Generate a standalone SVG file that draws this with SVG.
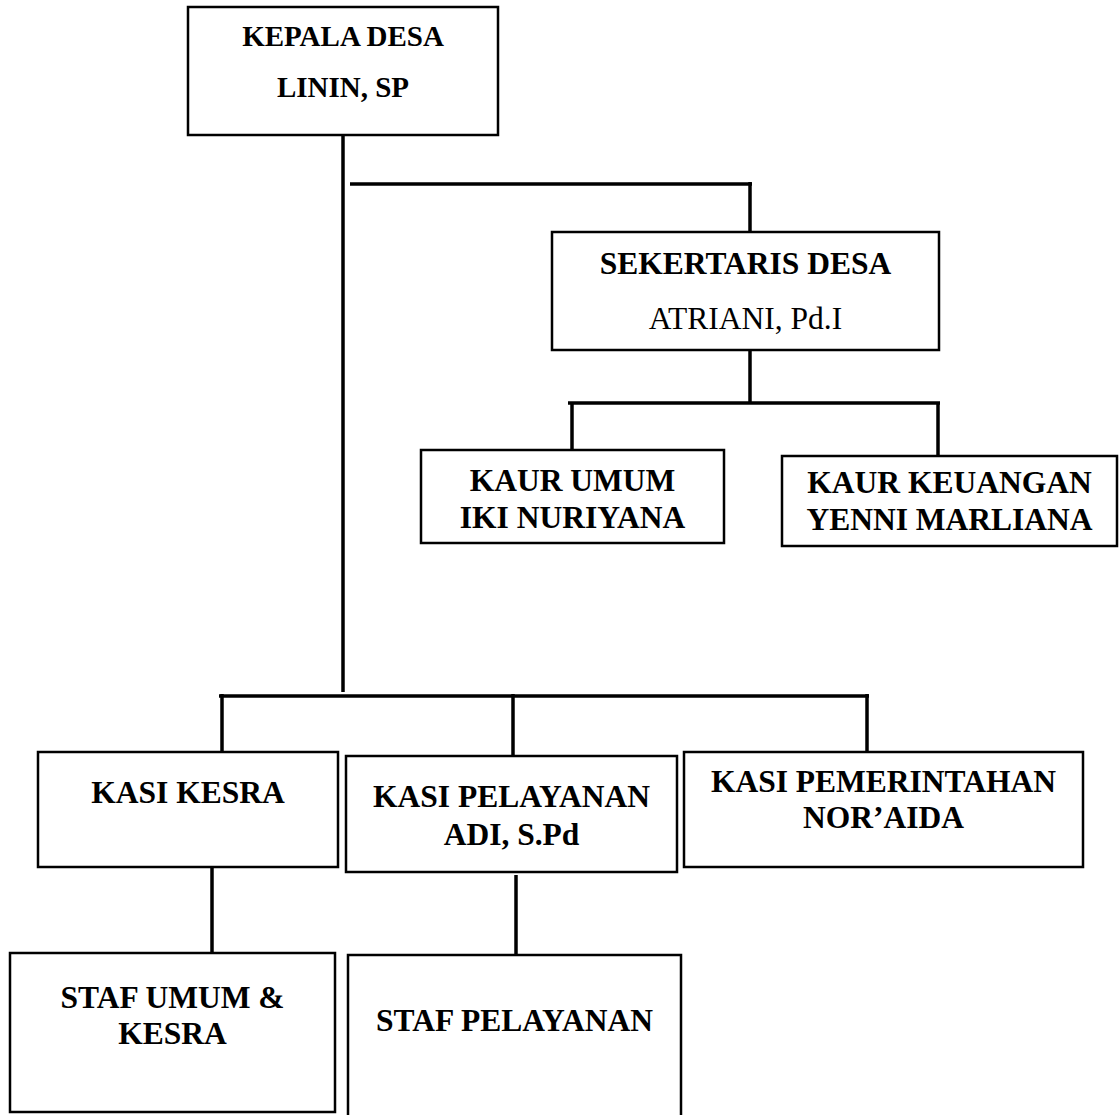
<svg xmlns="http://www.w3.org/2000/svg" width="1120" height="1115" viewBox="0 0 1120 1115">
<style>
.box{fill:#fff;stroke:#000;stroke-width:2.5}
.ln{stroke:#000;stroke-width:3.5;fill:none}
text{font-family:"Liberation Serif","Times New Roman",serif;font-size:31.5px;fill:#000;text-anchor:middle}
.b{font-weight:bold}
</style>
<rect width="1120" height="1115" fill="#fff"/>
<g id="connectors">
<line class="ln" x1="343" y1="132" x2="343" y2="692"/>
<line class="ln" x1="350" y1="184" x2="752" y2="184"/>
<line class="ln" x1="750" y1="182" x2="750" y2="232"/>
<line class="ln" x1="750" y1="350" x2="750" y2="403"/>
<line class="ln" x1="568" y1="403" x2="940" y2="403"/>
<line class="ln" x1="572" y1="403" x2="572" y2="450"/>
<line class="ln" x1="938" y1="403" x2="938" y2="456"/>
<line class="ln" x1="219" y1="696" x2="869" y2="696"/>
<line class="ln" x1="222" y1="694" x2="222" y2="752"/>
<line class="ln" x1="513" y1="694" x2="513" y2="756"/>
<line class="ln" x1="867" y1="694" x2="867" y2="752"/>
<line class="ln" x1="212" y1="867" x2="212" y2="953"/>
<line class="ln" x1="516" y1="875" x2="516" y2="955"/>
</g>
<g id="kepala-desa">
<rect class="box" x="188" y="7" width="310" height="128"/>
<text class="b" x="343" y="46" style="font-size:29px">KEPALA DESA</text>
<text class="b" x="343" y="97" style="font-size:29px">LININ, SP</text>
</g>
<g id="sekertaris-desa">
<rect class="box" x="552" y="232" width="387" height="118"/>
<text class="b" x="745.5" y="274">SEKERTARIS DESA</text>
<text x="745.5" y="329">ATRIANI, Pd.I</text>
</g>
<g id="kaur-umum">
<rect class="box" x="421" y="450" width="303" height="93"/>
<text class="b" x="572.5" y="491">KAUR UMUM</text>
<text class="b" x="572.5" y="528">IKI NURIYANA</text>
</g>
<g id="kaur-keuangan">
<rect class="box" x="782" y="456" width="335" height="90"/>
<text class="b" x="949.5" y="493">KAUR KEUANGAN</text>
<text class="b" x="949.5" y="530">YENNI MARLIANA</text>
</g>
<g id="kasi-kesra">
<rect class="box" x="38" y="752" width="300" height="115"/>
<text class="b" x="188" y="803">KASI KESRA</text>
</g>
<g id="kasi-pelayanan">
<rect class="box" x="346" y="756" width="331" height="116"/>
<text class="b" x="511.5" y="807">KASI PELAYANAN</text>
<text class="b" x="511.5" y="845">ADI, S.Pd</text>
</g>
<g id="kasi-pemerintahan">
<rect class="box" x="684" y="752" width="399" height="115"/>
<text class="b" x="883.5" y="792">KASI PEMERINTAHAN</text>
<text class="b" x="883.5" y="828">NOR’AIDA</text>
</g>
<g id="staf-umum-kesra">
<rect class="box" x="10" y="953" width="325" height="159"/>
<text class="b" x="172.5" y="1008">STAF UMUM &amp;</text>
<text class="b" x="172.5" y="1044">KESRA</text>
</g>
<g id="staf-pelayanan">
<rect class="box" x="348" y="955" width="333" height="175"/>
<text class="b" x="514.5" y="1031">STAF PELAYANAN</text>
</g>
</svg>
